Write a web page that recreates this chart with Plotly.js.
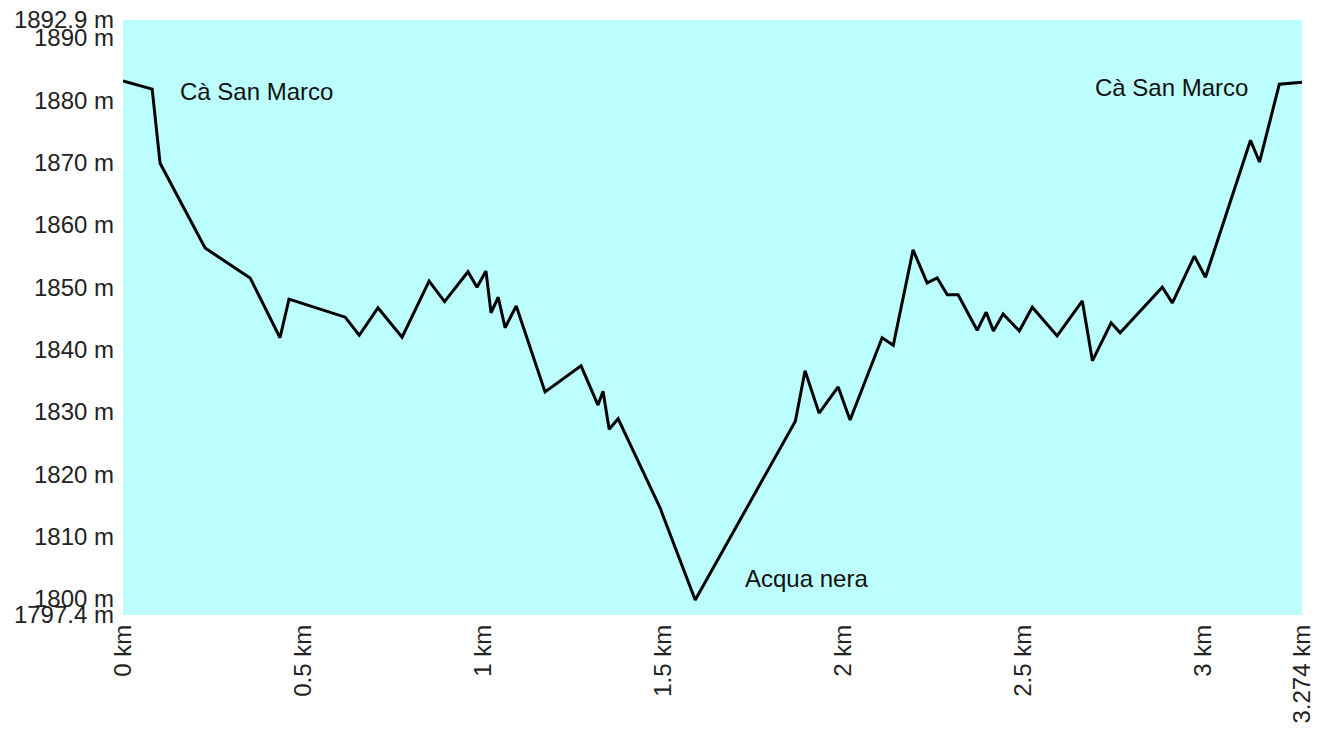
<!DOCTYPE html>
<html>
<head>
<meta charset="utf-8">
<script src="https://cdn.plot.ly/plotly-3.0.1.min.js"></script>
<style>html,body{margin:0;padding:0;background:#fff;}#chart{width:1331px;height:733px;}</style>
</head>
<body>
<div id="chart"></div>
<script>
// Distance along the route (km)
const distanceKm = [0, 0.081, 0.103, 0.228, 0.353, 0.436, 0.461, 0.617, 0.656, 0.708, 0.775, 0.85, 0.893,
  0.958, 0.983, 1.008, 1.022, 1.042, 1.061, 1.092, 1.172, 1.272, 1.319, 1.333, 1.35, 1.375, 1.494, 1.496,
  1.589, 1.867, 1.894, 1.933, 1.986, 2.019, 2.108, 2.139, 2.194, 2.233, 2.261, 2.289, 2.319, 2.372, 2.397,
  2.417, 2.444, 2.489, 2.525, 2.594, 2.664, 2.692, 2.744, 2.769, 2.886, 2.914, 2.975, 3.006, 3.131, 3.156,
  3.211, 3.274];
// Elevation (m)
const elevationM = [1883.1, 1881.8, 1869.9, 1856.3, 1851.5, 1841.9, 1848.1, 1845.2, 1842.3, 1846.7, 1842.0, 1851.0, 1847.7,
  1852.5, 1850.0, 1852.6, 1845.9, 1848.4, 1843.5, 1847.0, 1833.2, 1837.4, 1831.1, 1833.3, 1827.2, 1828.9, 1814.3, 1813.9,
  1799.8, 1828.5, 1836.6, 1829.8, 1834.0, 1828.7, 1841.9, 1840.7, 1856.0, 1850.7, 1851.5, 1848.8, 1848.8, 1843.1, 1846.0,
  1843.0, 1845.7, 1843.0, 1846.8, 1842.2, 1847.8, 1838.2, 1844.3, 1842.7, 1850.0, 1847.5, 1855.0, 1851.6, 1873.6, 1870.1,
  1882.6, 1882.9];

const xTickVals = [0, 0.5, 1, 1.5, 2, 2.5, 3, 3.274];
const xTickText = ["0 km", "0.5 km", "1 km", "1.5 km", "2 km", "2.5 km", "3 km", "3.274 km"];
const yTickVals = [1797.4, 1800, 1810, 1820, 1830, 1840, 1850, 1860, 1870, 1880, 1890, 1892.9];
const yTickText = ["1797.4 m", "1800 m", "1810 m", "1820 m", "1830 m", "1840 m", "1850 m", "1860 m", "1870 m", "1880 m", "1890 m", "1892.9 m"];

const placeNames = ["Cà San Marco", "Acqua nera", "Cà San Marco"];
const placeX = [0.372, 1.897, 2.911];
const placeY = [1881.5, 1803.3, 1882.1];

const tickFont = {family: "Liberation Sans, Arial, sans-serif", size: 24, color: "#222"};

const trace = {
  x: distanceKm, y: elevationM, type: "scatter", mode: "lines",
  line: {color: "#000", width: 3}, hoverinfo: "x+y", cliponaxis: false
};

const layout = {
  width: 1331, height: 733,
  margin: {l: 123, r: 29, t: 20, b: 118},
  paper_bgcolor: "#fff",
  plot_bgcolor: "#bcfdfd",
  showlegend: false,
  xaxis: {
    range: [0, 3.274], tickmode: "array", tickvals: xTickVals, ticktext: xTickText,
    tickangle: -90, showgrid: false, zeroline: false, showline: false, ticks: "",
    tickfont: tickFont, ticklabelstandoff: 4, fixedrange: true
  },
  yaxis: {
    range: [1797.4, 1892.9], tickmode: "array", tickvals: yTickVals, ticktext: yTickText,
    showgrid: false, zeroline: false, showline: false, ticks: "",
    tickfont: tickFont, ticklabelstandoff: 8, fixedrange: true
  },
  annotations: placeNames.map((t, i) => ({
    x: placeX[i], y: placeY[i], xref: "x", yref: "y", text: t, showarrow: false,
    font: {family: "Liberation Sans, Arial, sans-serif", size: 24, color: "#111"}
  }))
};

Plotly.newPlot("chart", [trace], layout, {displayModeBar: false, staticPlot: true});
</script>
</body>
</html>
